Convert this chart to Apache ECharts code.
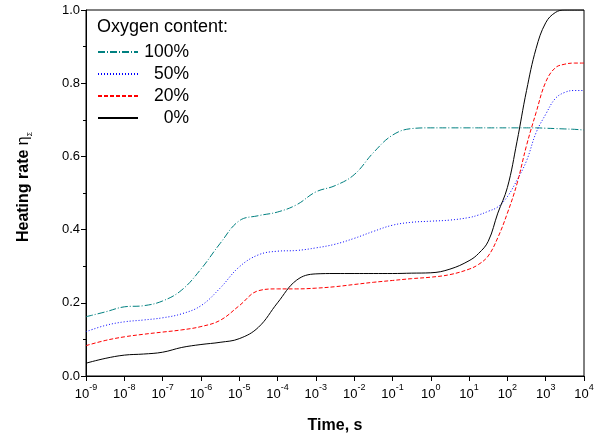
<!DOCTYPE html>
<html>
<head>
<meta charset="utf-8">
<script src="https://cdn.jsdelivr.net/npm/echarts@6/dist/echarts.min.js"></script>
<style>
  html, body { margin: 0; padding: 0; background: #fff; }
  #chart { width: 612px; height: 441px; }
</style>
</head>
<body>
<div id="chart"></div>
<script>
// time axis positions, as log10(seconds)
const timeExps = [-9, -8.5, -8, -7.5, -7, -6.5, -6, -5.5, -5, -4.5, -4, -3.5, -3, -2.5, -2, -1.5, -1, -0.5, 0, 0.5, 1,
  1.25, 1.5, 1.75, 2, 2.25, 2.5, 2.75, 3, 3.25, 3.5, 3.75, 4];

const oxy100 = [0.162, 0.175, 0.189, 0.192, 0.205, 0.235, 0.292, 0.362, 0.424, 0.438, 0.448, 0.468, 0.503, 0.520, 0.550, 0.610, 0.658, 0.676, 0.678, 0.678, 0.678,
  0.678, 0.678, 0.678, 0.678, 0.678, 0.678, 0.678, 0.677, 0.676, 0.675, 0.674, 0.672];
const oxy50 = [0.121, 0.138, 0.148, 0.153, 0.159, 0.170, 0.192, 0.240, 0.298, 0.331, 0.341, 0.343, 0.350, 0.360, 0.376, 0.395, 0.412, 0.420, 0.423, 0.426, 0.433,
  0.440, 0.450, 0.462, 0.490, 0.535, 0.588, 0.665, 0.715, 0.758, 0.775, 0.780, 0.780];
const oxy20 = [0.083, 0.097, 0.107, 0.114, 0.120, 0.126, 0.135, 0.152, 0.192, 0.233, 0.238, 0.238, 0.240, 0.244, 0.250, 0.256, 0.261, 0.266, 0.270, 0.277, 0.292,
  0.305, 0.328, 0.378, 0.445, 0.525, 0.630, 0.720, 0.803, 0.842, 0.852, 0.855, 0.855];
const oxy0 = [0.035, 0.048, 0.057, 0.060, 0.065, 0.078, 0.086, 0.092, 0.102, 0.133, 0.200, 0.262, 0.279, 0.280, 0.280, 0.280, 0.280, 0.281, 0.282, 0.292, 0.315,
  0.335, 0.368, 0.445, 0.515, 0.640, 0.780, 0.895, 0.965, 0.993, 1.0, 1.0, 1.0];

const seriesNames = ['100%', '50%', '20%', '0%'];

const font = 'Liberation Sans, Arial, sans-serif';

function toPoints(vals) {
  return timeExps.map((e, i) => [Math.pow(10, e), vals[i]]);
}

function lineSeries(name, vals, color, dash) {
  return {
    name: name,
    type: 'line',
    data: toPoints(vals),
    smooth: 0.4,
    symbol: 'none',
    lineStyle: { color: color, width: 1, type: dash },
    itemStyle: { color: color }
  };
}

const chart = echarts.init(document.getElementById('chart'));
chart.setOption({
  animation: false,
  backgroundColor: '#fff',
  title: {
    text: 'Oxygen content:',
    left: 97,
    top: 18,
    padding: 0,
    textStyle: { fontFamily: font, fontSize: 18, fontWeight: 'normal', color: '#000' }
  },
  legend: {
    orient: 'vertical',
    left: 97,
    top: 43,
    padding: 0,
    itemWidth: 40,
    itemHeight: 14,
    itemGap: 4,
    data: seriesNames,
    // hide the round marker, keep only the line sample
    itemStyle: { opacity: 0 },
    formatter: function (name) { return '{a|' + name + '}'; },
    textStyle: {
      fontFamily: font,
      color: '#000',
      rich: { a: { width: 46, align: 'right', fontSize: 17.5, lineHeight: 14, fontFamily: font, color: '#000' } }
    }
  },
  grid: {
    left: 86, right: 28, top: 10, bottom: 65,
    show: true, borderColor: '#000', borderWidth: 1
  },
  xAxis: {
    type: 'log',
    logBase: 10,
    min: 1e-9,
    max: 1e4,
    interval: 1,
    name: 'Time, s',
    nameLocation: 'middle',
    nameGap: 42,
    nameTextStyle: { fontFamily: font, fontSize: 16, fontWeight: 'bold', color: '#000' },
    axisLine: { lineStyle: { color: '#000', width: 1 } },
    axisTick: { length: 5, lineStyle: { color: '#000' } },
    minorTick: { show: false },
    splitLine: { show: false },
    axisLabel: {
      margin: 7,
      color: '#000',
      formatter: function (v) {
        const e = Math.round(Math.log10(v));
        return '{b|10}{s|' + e + '}';
      },
      rich: {
        b: { fontFamily: font, fontSize: 13, color: '#000', lineHeight: 18, verticalAlign: 'bottom' },
        s: { fontFamily: font, fontSize: 9, color: '#000', lineHeight: 18, verticalAlign: 'top' }
      }
    }
  },
  yAxis: {
    type: 'value',
    min: 0,
    max: 1,
    interval: 0.2,
    name: '{b|Heating rate }{e|η}{s|Σ}',
    nameLocation: 'middle',
    nameGap: 52,
    nameTextStyle: {
      color: '#000',
      padding: [0, 0, 0, 12],
      rich: {
        b: { fontFamily: font, fontSize: 16, fontWeight: 'bold', color: '#000', lineHeight: 20 },
        e: { fontFamily: font, fontSize: 16, color: '#000', lineHeight: 20 },
        s: { fontFamily: font, fontSize: 7, color: '#000', lineHeight: 20, verticalAlign: 'bottom' }
      }
    },
    axisLine: { show: true, lineStyle: { color: '#000', width: 1 } },
    axisTick: { show: true, length: 5, lineStyle: { color: '#000' } },
    minorTick: { show: true, splitNumber: 2, length: 3, lineStyle: { color: '#000' } },
    splitLine: { show: false },
    axisLabel: {
      margin: 6,
      fontFamily: font,
      fontSize: 13,
      color: '#000',
      formatter: function (v) { return v.toFixed(1); }
    }
  },
  series: [
    lineSeries(seriesNames[0], oxy100, '#008080', [7, 2, 1, 2]),
    lineSeries(seriesNames[1], oxy50, '#0000ff', [1, 2]),
    lineSeries(seriesNames[2], oxy20, '#ff0000', [4, 2]),
    lineSeries(seriesNames[3], oxy0, '#000000', 'solid')
  ]
});
</script>
</body>
</html>
